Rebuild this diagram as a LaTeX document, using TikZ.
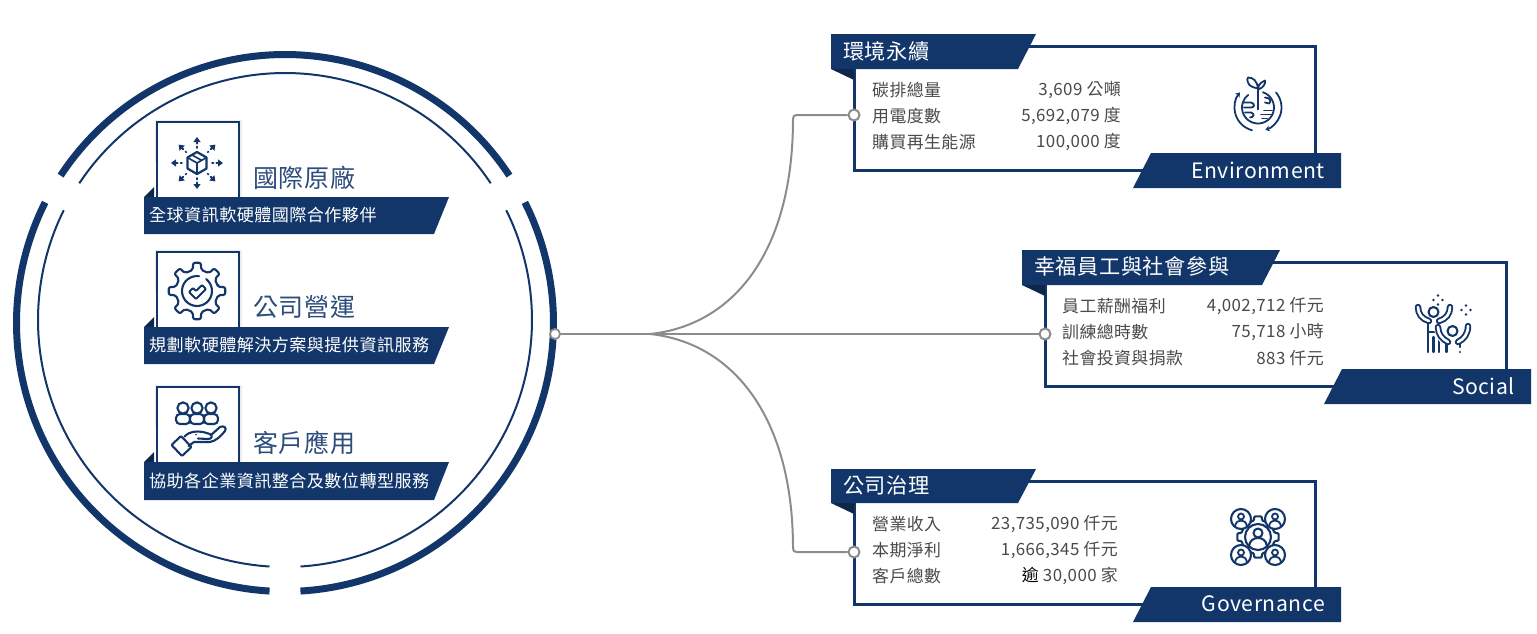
\documentclass[tikz,border=0pt]{standalone}
\usepackage{fontspec}
\setmainfont[LetterSpace=2.5]{Noto Sans CJK TC}
\usetikzlibrary{arrows.meta}
\definecolor{navy}{HTML}{12366A}
\definecolor{fold}{HTML}{0E2748}
\definecolor{conn}{HTML}{8C8C8C}
\definecolor{rowtext}{HTML}{4A4A4A}
\definecolor{headtext}{HTML}{2C4C7C}
\tikzset{
  ribbon/.style={fill=navy,draw=none},
  foldtri/.style={fill=fold,draw=none},
  panel/.style={draw=navy,line width=3pt,fill=white},
  iconbox/.style={draw=navy,line width=2.8pt,fill=white},
  iconhalo/.style={draw=black!7,line width=5pt},
  ic/.style={draw=navy,line width=2.1pt,line cap=round,line join=round},
  icthin/.style={draw=navy,line width=1.8pt,line cap=round,line join=round},
  connector/.style={draw=conn,line width=2pt},
  dot/.style={circle,draw=conn,fill=white,line width=2pt,minimum size=11pt,inner sep=0pt},
  hubdot/.style={circle,draw=conn,fill=white,line width=1.8pt,minimum size=10pt,inner sep=0pt},
  ringA/.style={draw=navy,line width=7pt},
  ringB/.style={draw=navy,line width=2pt},
  rowl/.style={anchor=west,inner sep=0pt,text=rowtext,font=\fontsize{16.9}{18}\selectfont},
  rowr/.style={anchor=east,inner sep=0pt,text=rowtext,font=\fontsize{16.9}{18}\selectfont},
  band/.style={anchor=west,inner sep=0pt,text=white,font=\fontsize{21.2}{23}\selectfont},
  sideword/.style={anchor=east,inner sep=0pt,text=white,font=\fontsize{21.2}{23}\selectfont},
  subband/.style={anchor=west,inner sep=0pt,text=white,font=\fontsize{17.1}{18}\selectfont},
  bigword/.style={anchor=west,inner sep=0pt,text=headtext,font=\fontsize{25}{27}\selectfont},
  armout/.style={draw=navy,line width=6.4pt,line cap=round},
  armin/.style={draw=white,line width=2.6pt,line cap=round},
}
\begin{document}
\begin{tikzpicture}[x=1pt,y=1pt,yscale=-1]
\useasboundingbox (0,0) rectangle (1537,633);
% --- rings
\foreach \s/\e in {93.3/206.7,213.3/326.7,333.3/446.7}{
  \draw[ringA] ({285+268.5*cos(\s)},{323+268.5*sin(\s)}) arc[start angle=\s,end angle=\e,radius=268.5];
}
\foreach \s/\e in {93.6/206.4,213.6/326.4,333.6/446.4}{
  \draw[ringB] ({285+247*cos(\s)},{320+247*sin(\s)}) arc[start angle=\s,end angle=\e,radius=247];
}
% --- left cards
\foreach \yy in {122,252,387}{
  \draw[iconhalo] (157,\yy+40) -- (157,\yy) -- (239,\yy) -- (239,\yy+75);
  \fill[white] (157,\yy) rectangle (239,\yy+75);
  \draw[iconbox] (157,\yy+76) -- (157,\yy) -- (239,\yy) -- (239,\yy+76);
}
% icon 1
\begin{scope}[shift={(197,163)}]
  \draw[ic,line width=2.2pt] (90:11) -- (30:11) -- (-30:11) -- (-90:11) -- (-150:11) -- (150:11) -- cycle;
  \draw[ic,line width=1.6pt] (-150:11) -- (0,0) -- (-30:11) (0,0) -- (0,11) (-5,-8) -- (5,-2.5);
  \foreach \a in {0,45,...,315}{
    \draw[ic,line width=1.6pt] (\a:15) -- (\a:16.5);
    \draw[ic,-{Triangle[length=5pt,width=7pt]}] (\a:19.5) -- (\a:26);
  }
\end{scope}
% icon 2
\begin{scope}[shift={(197,291)}]
  \draw[ic,rounded corners=2pt] (-11:21.5) foreach \a in {0,45,...,315}{ -- ({\a-11}:21.5) -- ({\a-8}:28.5) -- ({\a+8}:28.5) -- ({\a+11}:21.5)} -- cycle;
  \draw[ic] (-52:15) arc[start angle=-52,end angle=278,radius=15];
  \fill[navy] (-42:15) circle (1pt);
  \draw[ic,rounded corners=1pt] (-8,1) -- (-4,-3) -- (-1,0) -- (5,-6) -- (9,-2) -- (-1,8) -- cycle;
\end{scope}
% icon 3
\foreach \cx in {183,211,197}{
  \draw[ic,fill=white] (\cx,408) circle (5.6);
  \draw[ic,fill=white,rounded corners=4pt] (\cx-7,424) -- (\cx-7,414) -- (\cx+7,414) -- (\cx+7,424) -- cycle;
}
\draw[ic,rounded corners=1pt] (171.5,445) -- (181,436) -- (191.5,447) -- (182,456) -- cycle;
\draw[ic] (184.5,436.5) .. controls (190,431) and (196,431) .. (203,432) -- (210,434) .. controls (213,436) and (212,439) .. (208,439) -- (198,438.5);
\draw[ic] (211,435) -- (220,427) .. controls (224,425) and (227,428) .. (225,431) .. controls (221,436) and (216,441) .. (210,442) -- (194,442) -- (188.5,446);
\fill[navy] (196,434.5) circle (.8);
\foreach \yy/\yb in {197/234,327/364,462/500}{
  \fill[foldtri] (144,\yy) -- (154,\yy-10) -- (154,\yy) -- cycle;
  \fill[ribbon] (144,\yy) -- (449,\yy) -- (434,\yb) -- (144,\yb) -- cycle;
}
\node[bigword] (capA) at (253,178) {國際原廠};
\node[bigword] (capB) at (253,307) {公司營運};
\node[bigword] (capC) at (253,443) {客戶應用};
\node[subband] (subA) at (149,215) {全球資訊軟硬體國際合作夥伴};
\node[subband] (subB) at (149,345) {規劃軟硬體解決方案與提供資訊服務};
\node[subband] (subC) at (149,481) {協助各企業資訊整合及數位轉型服務};
% --- right panels
\draw[panel] (854,46) rectangle (1315,170);
\fill[foldtri] (831,69) -- (854,69) -- (854,80) -- cycle;
\fill[ribbon] (831,34) -- (1036,34) -- (1018,69) -- (831,69) -- cycle;
\fill[ribbon] (1133,188) -- (1151,153) -- (1341,153) -- (1341,188) -- cycle;
\draw[panel] (1045,262) rectangle (1506,386);
\fill[foldtri] (1022,285) -- (1045,285) -- (1045,296) -- cycle;
\fill[ribbon] (1022,250) -- (1280,250) -- (1262,285) -- (1022,285) -- cycle;
\fill[ribbon] (1324,404) -- (1342,369) -- (1531,369) -- (1531,404) -- cycle;
\draw[panel] (854,481) rectangle (1315,604);
\fill[foldtri] (831,503) -- (854,503) -- (854,514) -- cycle;
\fill[ribbon] (831,469) -- (1036,469) -- (1018,503) -- (831,503) -- cycle;
\fill[ribbon] (1133,622) -- (1151,587) -- (1341,587) -- (1341,622) -- cycle;
\node[band] (tE) at (843,51) {環境永續};
\node[band] (tS) at (1034,266) {幸福員工與社會參與};
\node[band] (tG) at (843,485) {公司治理};
\node[sideword] (wE) at (1325,170) {Environment};
\node[sideword] (wS) at (1515,386) {Social};
\node[sideword] (wG) at (1325,604) {Governance};
\node[rowl] (e1) at (872,90) {碳排總量};
\node[rowl] (e2) at (872,116) {用電度數};
\node[rowl] (e3) at (872,142) {購買再生能源};
\node[rowr] (e4) at (1121,90) {3,609 公噸};
\node[rowr] (e5) at (1121,116) {5,692,079 度};
\node[rowr] (e6) at (1121,142) {100,000 度};
\node[rowl] (s1) at (1062,306) {員工薪酬福利};
\node[rowl] (s2) at (1062,332) {訓練總時數};
\node[rowl] (s3) at (1062,358) {社會投資與捐款};
\node[rowr] (s4) at (1324,306) {4,002,712 仟元};
\node[rowr] (s5) at (1324,332) {75,718 小時};
\node[rowr] (s6) at (1324,358) {883 仟元};
\node[rowl] (g1) at (872,524) {營業收入};
\node[rowl] (g2) at (872,550) {本期淨利};
\node[rowl] (g3) at (872,576) {客戶總數};
\node[rowr] (g4) at (1118,524) {23,735,090 仟元};
\node[rowr] (g5) at (1118,550) {1,666,345 仟元};
\node[rowr] (g6) at (1118,576) {\textcolor{black}{逾} 30,000 家};
% environment icon
\begin{scope}[shift={(1258,107.5)}]
  \draw[icthin] (-72:16) arc[start angle=-72,end angle=232,radius=16];
  \draw[icthin] (0,2) -- (0,-23);
  \draw[icthin] (0,-19) .. controls (-4,-20) and (-9,-21) .. (-10,-25) .. controls (-11,-27) and (-11,-29) .. (-10,-30) .. controls (-5,-30) and (-1,-27) .. (0,-19);
  \draw[icthin] (0,-19) .. controls (1,-24) and (4,-26) .. (7,-27) .. controls (8,-23) and (4,-19) .. (0,-18);
  \draw[icthin,-{Stealth[length=4.5pt,width=6pt]}] (105:23.5) arc[start angle=105,end angle=220,radius=23.5];
  \draw[icthin,-{Stealth[length=4.5pt,width=6pt]}] (-40:23.5) arc[start angle=-40,end angle=72,radius=23.5];
  \draw[icthin] (-15,-5) -- (-7,-5) .. controls (-3,-4) and (-3,0) .. (-7,0) -- (-14,0);
  \draw[icthin] (-13,5) -- (-7,5) .. controls (-3,6) and (-4,10) .. (-8,10);
  \draw[icthin] (3,7) -- (13,7) (4,11) -- (9,11) (6,3) -- (14,3);
  \draw[icthin] (7,-10) .. controls (12,-10) and (14,-6) .. (11,-4) -- (7,-5);
\end{scope}
% social icon
\begin{scope}[shift={(1405,290)}]
  \draw[armout] (13,17) .. controls (13,24) and (17,29) .. (24,31);
  \draw[armout] (45,17) .. controls (45,24) and (41,29) .. (34,31);
  \draw[armin] (13,17) .. controls (13,24) and (17,29) .. (24,31);
  \draw[armin] (45,17) .. controls (45,24) and (41,29) .. (34,31);
  \draw[ic] (28.5,22) circle (5);
  \draw[ic] (23,33) -- (23,62) (28.5,47) -- (28.5,62) (34,47) -- (34,62) (23,42) -- (31,42);
  \draw[armout,white,line width=10pt] (34,39) .. controls (36,46) and (38,49) .. (43,52);
  \draw[armout] (33,37) .. controls (33,44) and (37,49) .. (43,52);
  \draw[armout] (63,36) .. controls (63,44) and (59,49) .. (53,52);
  \draw[armin] (33,37) .. controls (33,44) and (37,49) .. (43,52);
  \draw[armin] (63,36) .. controls (63,44) and (59,49) .. (53,52);
  \draw[ic] (47.5,41) circle (5);
  \draw[ic] (41.5,54) -- (41.5,62) (55,54) -- (55,57);
  \fill[navy] (55,62) circle (1.2);
  \foreach \dx/\dy in {-4.5/0,4.5/0,0/-4.5,0/4.5}{
    \fill[navy] (33+\dx,10+\dy) circle (1.4);
    \fill[navy] (61+\dx,20+\dy) circle (1.4);
  }
\end{scope}
% governance icon
\begin{scope}[shift={(1258,537)}]
  \draw[ic,rounded corners=1pt] (-14:17) foreach \a in {0,45,...,315}{ -- ({\a-14}:17) -- ({\a-10}:21) -- ({\a+10}:21) -- ({\a+14}:17)} -- cycle;
  \draw[ic,fill=white] (0,0) circle (13);
  \draw[ic] (0,-4) circle (4.5);
  \draw[ic] (-9,9) .. controls (-8,3) and (-4,1) .. (0,1) .. controls (4,1) and (8,3) .. (9,9);
  \foreach \cx/\cy in {-17/-18,17/-18,-17/18,17/18}{
    \begin{scope}[shift={(\cx,\cy)}]
      \draw[ic,fill=white] (0,0) circle (10);
      \draw[icthin] (0,-2.5) circle (3);
      \draw[icthin] (-6,7) .. controls (-5,3) and (-3,1.5) .. (0,1.5) .. controls (3,1.5) and (5,3) .. (6,7);
    \end{scope}
  }
\end{scope}
% --- connectors
\node[hubdot] (hub) at (555,334) {};
\node[dot] (dotE) at (854,115) {};
\node[dot] (dotS) at (1045,334) {};
\node[dot] (dotG) at (854,552) {};
\coordinate (split) at (650,334);
\draw[connector] (hub.east) -- (split) -- (dotS.west);
\draw[connector] (split) .. controls (735,325) and (793,250) .. (793,119) .. controls (793,116) and (794,115) .. (797,115) -- (dotE.west);
\draw[connector] (split) .. controls (735,343) and (793,420) .. (793,548) .. controls (793,551) and (794,552) .. (797,552) -- (dotG.west);
\end{tikzpicture}
\end{document}
